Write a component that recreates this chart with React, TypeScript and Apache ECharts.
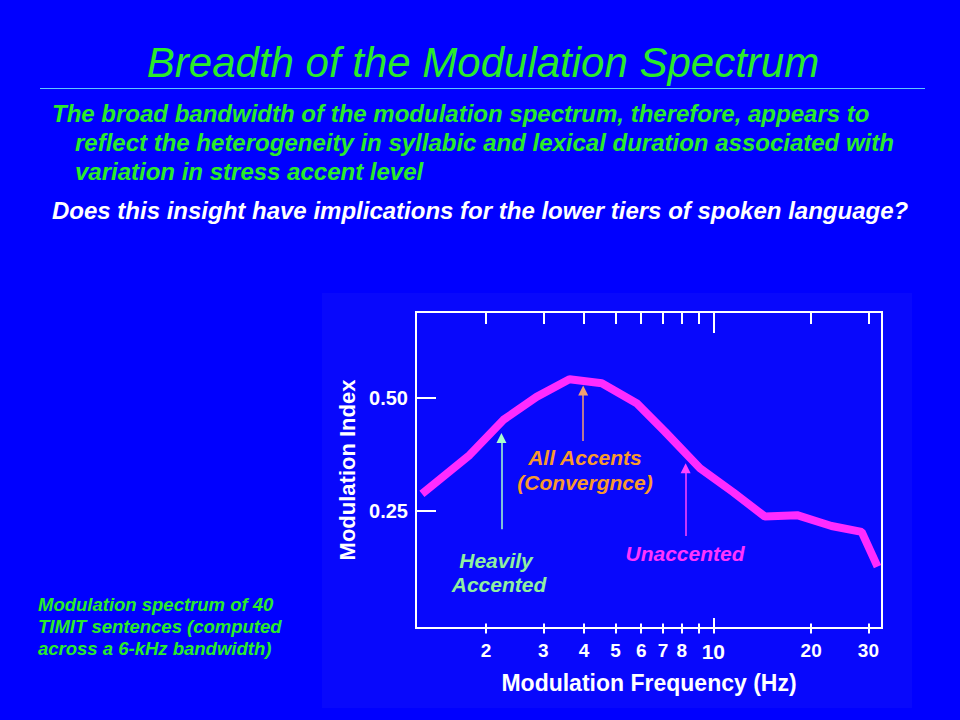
import React, { useEffect, useRef } from 'react';
import * as echarts from 'echarts';

// ---- data ----
const freqHz = [1.27, 1.78, 2.26, 2.86, 3.61, 4.54, 5.81, 7.1, 9.1, 11.5, 14.4, 18.1, 23.1, 28.6, 32.0];
const modIndex = [0.287, 0.373, 0.451, 0.502, 0.541, 0.532, 0.488, 0.425, 0.344, 0.291, 0.237, 0.24, 0.216, 0.203, 0.126];
const xTickValues = [2, 3, 4, 5, 6, 7, 8, 9, 10, 20, 30];
const xTickLabelValues = [2, 3, 4, 5, 6, 7, 8, 10, 20, 30];
const yTickValues = [0.25, 0.5];
const arrowNames = ['Heavily Accented', 'All Accents', 'Unaccented'];
const arrowFreq = [2.23, 3.98, 8.22];
const arrowFrom = [0.209, 0.404, 0.194];
const arrowTo = [0.411, 0.516, 0.344];
const arrowColors = ['#a8ffcc', '#f3a070', '#ff44ff'];
const arrowHeadColors = ['#90f0b0', '#f7a030', '#ff44ff'];

const titleText = 'Breadth of the Modulation Spectrum';
const bodyLines = [
  'The broad bandwidth of the modulation spectrum, therefore, appears to',
  'reflect the heterogeneity in syllabic and lexical duration associated with',
  'variation in stress accent level',
];
const questionText = 'Does this insight have implications for the lower tiers of spoken language?';
const captionLines = [
  'Modulation spectrum of 40',
  'TIMIT sentences (computed',
  'across a 6-kHz bandwidth)',
];

const X_MIN = 1.2177;
const X_MAX = 33.03;
const Y_MIN = -0.01;
const Y_MAX = 0.69;

const FONT = "'Liberation Sans', Arial, Helvetica, sans-serif";
const GREEN = '#2aeb2a';

export default function App() {
  const ref = useRef<HTMLDivElement>(null);

  useEffect(() => {
    if (!ref.current) return;
    const chart = echarts.init(ref.current, undefined, { renderer: 'svg' });

    const txt = (
      text: string,
      x: number,
      y: number,
      size: number,
      fill: string,
      opts: any = {}
    ) => ({
      type: 'text',
      x,
      y,
      silent: true,
      z: 50,
      style: {
        text,
        fill,
        fontSize: size,
        fontFamily: FONT,
        fontStyle: opts.italic === false ? 'normal' : 'italic',
        fontWeight: opts.bold === false ? 'normal' : 'bold',
        align: opts.align || 'left',
        verticalAlign: 'middle',
      },
    });

    const tickLine = { color: '#ffffff', width: 2 };
    const baseX = {
      type: 'log',
      logBase: 10,
      min: X_MIN,
      max: X_MAX,
      axisLine: { show: false },
      splitLine: { show: false },
      axisPointer: { show: false },
    };

    const option: any = {
      animation: false,
      backgroundColor: '#0000ff',
      grid: {
        left: 416,
        top: 312,
        width: 466,
        height: 316,
        show: true,
        borderColor: '#ffffff',
        borderWidth: 2,
        backgroundColor: 'transparent',
        containLabel: false,
      },
      xAxis: [
        {
          ...baseX,
          position: 'bottom',
          axisTick: { show: true, inside: false, length: 10, customValues: xTickValues, lineStyle: tickLine },
          axisLabel: {
            show: true,
            customValues: xTickLabelValues,
            margin: 13,
            color: '#ffffff',
            fontSize: 19,
            fontWeight: 'bold',
            fontFamily: FONT,
            formatter: (v: number) => {
              const n = Math.round(v);
              return n === 10 ? '{big|10}' : '{n|' + n + '}';
            },
            rich: {
              n: { fontSize: 19, fontWeight: 'bold', color: '#ffffff', fontFamily: FONT },
              big: { fontSize: 21, fontWeight: 'bold', color: '#ffffff', fontFamily: FONT },
            },
          },
          name: 'Modulation Frequency (Hz)',
          nameLocation: 'middle',
          nameGap: 43,
          nameTextStyle: { color: '#ffffff', fontSize: 23, fontWeight: 'bold', fontFamily: FONT },
        },
        {
          ...baseX,
          position: 'top',
          axisTick: { show: true, inside: true, length: 12, customValues: xTickValues, lineStyle: tickLine },
          axisLabel: { show: false },
        },
        {
          ...baseX,
          position: 'bottom',
          axisTick: { show: true, inside: true, length: 10, customValues: [10], lineStyle: tickLine },
          axisLabel: { show: false },
        },
        {
          ...baseX,
          position: 'top',
          axisTick: { show: true, inside: true, length: 21, customValues: [10], lineStyle: tickLine },
          axisLabel: { show: false },
        },
      ],
      yAxis: [
        {
          type: 'value',
          min: Y_MIN,
          max: Y_MAX,
          position: 'left',
          axisLine: { show: false },
          splitLine: { show: false },
          axisTick: { show: true, inside: true, length: 20, customValues: yTickValues, lineStyle: tickLine },
          axisLabel: {
            show: true,
            customValues: yTickValues,
            margin: 8,
            color: '#ffffff',
            fontSize: 20,
            fontWeight: 'bold',
            fontFamily: FONT,
            formatter: (v: number) => v.toFixed(2),
          },
          name: 'Modulation Index',
          nameLocation: 'middle',
          nameRotate: 90,
          nameGap: 58,
          nameTextStyle: { color: '#ffffff', fontSize: 22, fontWeight: 'bold', fontFamily: FONT },
        },
      ],
      series: [
        {
          type: 'line',
          name: 'Modulation spectrum',
          xAxisIndex: 0,
          yAxisIndex: 0,
          data: freqHz.map((f, i) => [f, modIndex[i]]),
          symbol: 'none',
          silent: true,
          clip: false,
          lineStyle: { color: '#ff2bff', width: 8, cap: 'butt', join: 'bevel' },
          markLine: {
            silent: true,
            animation: false,
            symbolSize: 10,
            label: { show: false },
            emphasis: { disabled: true },
            data: arrowNames.map((n, i) => [
              {
                name: n,
                coord: [arrowFreq[i], arrowFrom[i]],
                symbol: 'none',
                lineStyle: { color: arrowColors[i], width: 1.5, type: 'solid' },
              },
              {
                coord: [arrowFreq[i], arrowTo[i]],
                symbol: 'triangle',
                symbolSize: 10,
                itemStyle: { color: arrowHeadColors[i] },
                lineStyle: { color: arrowColors[i], width: 1.5, type: 'solid' },
              },
            ]),
          },
        },
      ],
      graphic: [
        {
          type: 'rect',
          z: -10,
          silent: true,
          shape: { x: 322, y: 293, width: 590, height: 415 },
          style: { fill: '#0808fc' },
        },
        txt(titleText, 483, 62, 42, GREEN, { bold: false, align: 'center' }),
        {
          type: 'line',
          silent: true,
          shape: { x1: 40, y1: 88.5, x2: 925, y2: 88.5 },
          style: { stroke: '#5ec8ff', lineWidth: 1 },
        },
        txt(bodyLines[0], 52, 113, 24, GREEN),
        txt(bodyLines[1], 75, 142, 24, GREEN),
        txt(bodyLines[2], 75, 171, 24, GREEN),
        txt(questionText, 52, 210, 24, '#ffffff'),
        txt(captionLines[0], 38, 604, 18.5, GREEN),
        txt(captionLines[1], 38, 626, 18.5, GREEN),
        txt(captionLines[2], 38, 648, 18.5, GREEN),
        txt('All Accents', 585, 457, 21, '#f99a2c', { align: 'center' }),
        txt('(Convergnce)', 585, 482, 21, '#f99a2c', { align: 'center' }),
        txt('Heavily', 496, 560, 21, '#90f0a0', { align: 'center' }),
        txt('Accented', 499, 584, 21, '#90f0a0', { align: 'center' }),
        txt('Unaccented', 685, 553, 21, '#ff33ff', { align: 'center' }),
      ],
    };

    chart.setOption(option);
    return () => {
      chart.dispose();
    };
  }, []);

  return (
    <div
      ref={ref}
      style={{ position: 'fixed', left: 0, top: 0, width: 960, height: 720 }}
    />
  );
}
